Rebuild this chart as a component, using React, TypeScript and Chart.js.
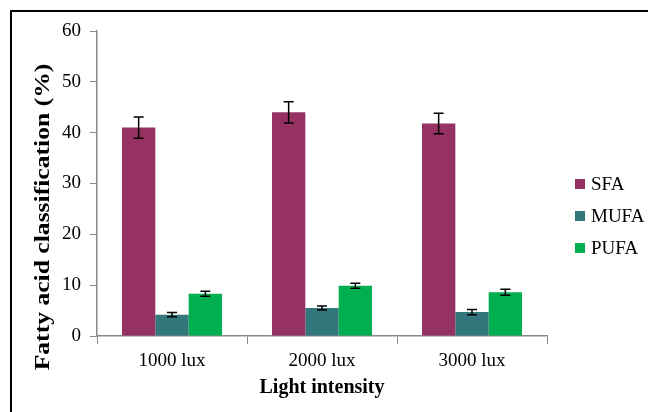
import React, { useEffect, useRef } from "react";
import { Chart, registerables } from "chart.js";

Chart.register(...registerables);

const categories = ["1000 lux", "2000 lux", "3000 lux"];
const seriesNames = ["SFA", "MUFA", "PUFA"];
const sfaValues = [41.0, 44.0, 41.8];
const mufaValues = [4.2, 5.5, 4.7];
const pufaValues = [8.3, 9.9, 8.6];
const sfaErrors = [2.1, 2.1, 2.0];
const mufaErrors = [0.4, 0.4, 0.5];
const pufaErrors = [0.5, 0.5, 0.6];
const seriesColors = ["#953163", "#31777B", "#00B050"];
const yTicks = [0, 10, 20, 30, 40, 50, 60];
const yTitle = "Fatty acid classification (%)";
const xTitle = "Light intensity";

const FONT = "'Liberation Serif', 'Times New Roman', serif";

const errorBarPlugin = {
  id: "errorBars",
  afterDatasetsDraw(chart: any) {
    const ctx = chart.ctx;
    const yScale = chart.scales.y;
    chart.data.datasets.forEach((ds: any, di: number) => {
      const meta = chart.getDatasetMeta(di);
      const errs: number[] = ds.errors || [];
      meta.data.forEach((bar: any, i: number) => {
        const v = ds.data[i];
        const e = errs[i];
        if (e == null) return;
        const x = bar.x;
        const yTop = yScale.getPixelForValue(v + e);
        const yBot = yScale.getPixelForValue(v - e);
        ctx.save();
        ctx.strokeStyle = "#000";
        ctx.lineWidth = 1.5;
        ctx.beginPath();
        ctx.moveTo(x, yTop);
        ctx.lineTo(x, yBot);
        ctx.moveTo(x - 5, yTop);
        ctx.lineTo(x + 5, yTop);
        ctx.moveTo(x - 5, yBot);
        ctx.lineTo(x + 5, yBot);
        ctx.stroke();
        ctx.restore();
      });
    });
  },
};

const framePlugin = {
  id: "frame",
  beforeDraw(chart: any) {
    const ctx = chart.ctx;
    ctx.save();
    ctx.fillStyle = "#fff";
    ctx.fillRect(0, 0, chart.width, chart.height);
    ctx.fillStyle = "#000";
    ctx.fillRect(10, 10, chart.width - 10, 2);
    ctx.fillRect(10, 10, 2, chart.height - 10);
    ctx.restore();
  },
};

const yTitlePlugin = {
  id: "yTitle",
  afterDraw(chart: any) {
    const ctx = chart.ctx;
    ctx.save();
    ctx.translate(44, 217);
    ctx.rotate(-Math.PI / 2);
    ctx.scale(1.22, 1);
    ctx.font = `bold 21px ${FONT}`;
    ctx.textAlign = "center";
    ctx.textBaseline = "middle";
    ctx.fillStyle = "#000";
    ctx.fillText(yTitle, 0, 0);
    ctx.restore();
  },
};

const legendPlugin = {
  id: "sideLegend",
  afterDraw(chart: any) {
    const ctx = chart.ctx;
    const x0 = chart.chartArea.right + 28;
    const y0 = 184;
    const step = 32;
    ctx.save();
    ctx.font = `19px ${FONT}`;
    ctx.textBaseline = "middle";
    ctx.textAlign = "left";
    chart.data.datasets.forEach((ds: any, i: number) => {
      const cy = y0 + step * i;
      ctx.fillStyle = ds.backgroundColor;
      ctx.fillRect(x0, cy - 5, 10, 10);
      ctx.fillStyle = "#000";
      ctx.fillText(ds.label, x0 + 16, cy + 1);
    });
    ctx.restore();
  },
};

export default function App() {
  const ref = useRef<HTMLCanvasElement | null>(null);

  useEffect(() => {
    document.body.style.margin = "0";
    if (!ref.current) return;
    const chart = new Chart(ref.current, {
      type: "bar",
      data: {
        labels: categories,
        datasets: [
          { label: seriesNames[0], data: sfaValues, errors: sfaErrors, backgroundColor: seriesColors[0] } as any,
          { label: seriesNames[1], data: mufaValues, errors: mufaErrors, backgroundColor: seriesColors[1] } as any,
          { label: seriesNames[2], data: pufaValues, errors: pufaErrors, backgroundColor: seriesColors[2] } as any,
        ],
      },
      options: {
        animation: false,
        responsive: true,
        maintainAspectRatio: false,
        layout: { padding: { top: 31, right: 101, bottom: 0, left: 0 } },
        datasets: { bar: { categoryPercentage: 0.667, barPercentage: 1.0 } },
        plugins: {
          legend: { display: false },
          tooltip: { enabled: false },
        },
        scales: {
          x: {
            grid: { display: true, drawOnChartArea: false, color: "#8a8a8a", tickLength: 8, offset: true },
            border: { display: true, color: "#8a8a8a", width: 1.5 },
            ticks: { color: "#000", font: { family: FONT, size: 19 }, padding: 6 },
            title: {
              display: true,
              text: xTitle,
              color: "#000",
              font: { family: FONT, size: 20, weight: "bold" },
              padding: { top: 0, bottom: 12 },
            },
            afterFit(scale: any) {
              scale.height = 76;
            },
          },
          y: {
            min: 0,
            max: 60,
            afterBuildTicks(scale: any) {
              scale.ticks = yTicks.map((v) => ({ value: v }));
            },
            grid: { display: true, drawOnChartArea: false, color: "#8a8a8a", tickLength: 7 },
            border: { display: true, color: "#8a8a8a", width: 1.5 },
            ticks: { color: "#000", font: { family: FONT, size: 19 }, padding: 9 },
            title: { display: false },
            afterFit(scale: any) {
              scale.width = 97;
            },
          },
        },
      },
      plugins: [framePlugin, errorBarPlugin, legendPlugin, yTitlePlugin],
    });
    return () => chart.destroy();
  }, []);

  return (
    <div style={{ width: 648, height: 412, position: "relative" }}>
      <canvas ref={ref} />
    </div>
  );
}
